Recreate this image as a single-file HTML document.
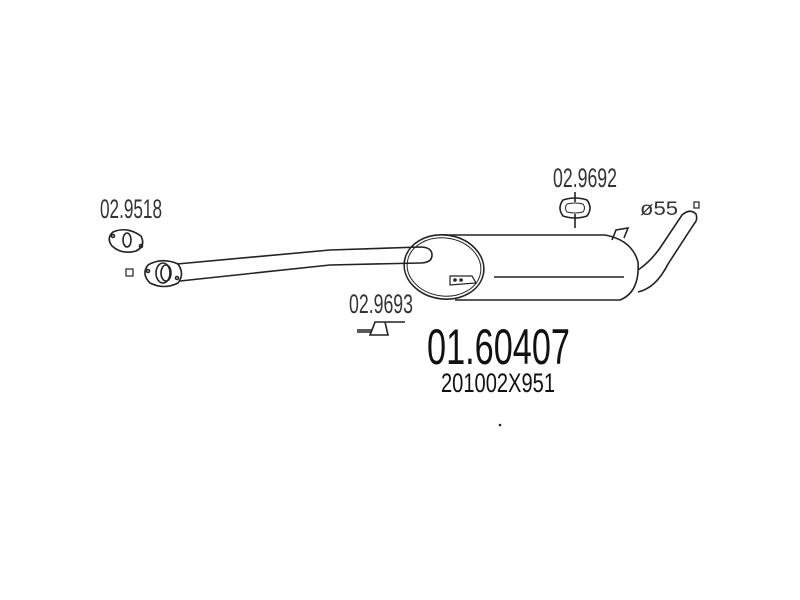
<!DOCTYPE html>
<html><head><style>html,body{margin:0;padding:0;background:#fff;}svg{display:block}</style></head>
<body>
<svg width="800" height="600" viewBox="0 0 800 600" xmlns="http://www.w3.org/2000/svg" font-family="Liberation Sans, sans-serif">
<g fill="none" stroke="#222" stroke-width="1.6">
<path d="M113,232 Q127,226 141,236 Q146,246 136,251 Q122,255 112,246 Q106,238 113,232Z"/>
<ellipse cx="127" cy="240" rx="4" ry="7"/>
<circle cx="113" cy="236" r="1.5"/><circle cx="141" cy="246" r="1.5"/>
<rect x="126" y="269" width="7" height="7" stroke-width="1.2"/>
<rect x="694" y="202" width="5" height="6" stroke-width="1.2"/>
<path d="M148,265 Q162,257 178,264 Q185,274 178,283 Q164,290 150,283 Q141,274 148,265Z"/>
<ellipse cx="163" cy="273" rx="7" ry="10"/>
<ellipse cx="166" cy="273" rx="5" ry="8"/>
<circle cx="148" cy="271" r="1.5"/><circle cx="177" cy="278" r="1.5"/>
<path d="M177,264 L330,250 L420,247 Q432,247 432,255 Q432,263 420,263 L330,265 L180,281"/>
<ellipse cx="444" cy="267" rx="40" ry="32" transform="rotate(8 444 267)"/>
<ellipse cx="444" cy="267" rx="37" ry="29" transform="rotate(8 444 267)" stroke-width="1"/>
<path d="M444,235 L605,235 Q632,240 638,262 Q640,292 620,300 L455,300"/>
<path d="M612,240 L616,230 L628,228 L624,238"/>
<path d="M494,277 L624,277"/>
<path d="M450,276 L472,276 L476,283 L450,285Z" stroke-width="1.2"/>
<circle cx="455" cy="280" r="1"/><circle cx="461" cy="280" r="1"/>
<path d="M638,270 Q650,262 660,248 L682,215 Q690,208 696,214 Q698,220 694,224 L668,264 Q656,288 638,292"/>
<path d="M563,200 Q575,196 587,200 Q593,208 587,216 Q575,220 563,216 Q557,208 563,200Z"/>
<path d="M567,204 Q575,202 583,204 Q586,208 583,212 Q575,214 567,212 Q564,208 567,204Z" stroke-width="1"/>
<path d="M575,192 L575,202 M575,214 L575,228"/>
<path d="M357,330 L372,330 L375,322 L405,322 M372,330 L370,335 L388,335 L385,322 M357,332 L372,332"/>
</g>
<g fill="#333">
<text x="100" y="218" font-size="27" textLength="62" lengthAdjust="spacingAndGlyphs">02.9518</text>
<text x="553" y="187" font-size="27" textLength="64" lengthAdjust="spacingAndGlyphs">02.9692</text>
<text x="349" y="313" font-size="27" textLength="64" lengthAdjust="spacingAndGlyphs">02.9693</text>
<text x="640" y="215" font-size="19" textLength="38" lengthAdjust="spacingAndGlyphs">ø55</text>
</g>
<text x="427" y="364" font-size="50" fill="#111" textLength="143" lengthAdjust="spacingAndGlyphs">01.60407</text>
<text x="441" y="392" font-size="27" fill="#111" textLength="114" lengthAdjust="spacingAndGlyphs">201002X951</text>
<circle cx="500" cy="425" r="1.3" fill="#222"/>
</svg>
</body></html>
